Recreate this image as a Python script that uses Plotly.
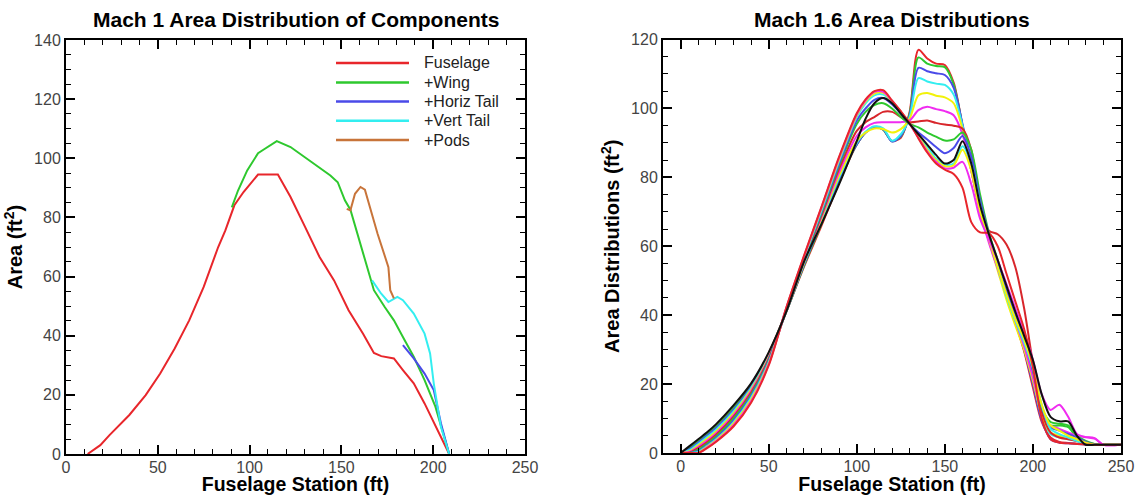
import plotly.graph_objects as go

# ---------------- Left chart: Mach 1 area distribution of components ----------------
fus_x = [11.8, 18.7, 23.7, 34.5, 43.4, 51.3, 59.2, 67.1, 75.0, 82.9, 86.8, 91.7, 96.7, 104.6, 115.4,
         122.3, 130.2, 138.1, 146.0, 153.9, 161.8, 167.7, 171.7, 178.6, 183.5, 189.4, 195.3, 201.2, 205.2, 208.7]
fus_y = [0.0, 3.0, 6.4, 13.2, 19.9, 27.2, 35.7, 45.2, 56.5, 70.0, 75.6, 84.1, 88.6, 94.5, 94.5,
         86.9, 76.8, 66.6, 58.7, 48.6, 40.7, 34.2, 33.1, 32.3, 28.4, 23.9, 17.1, 9.8, 4.7, 0.0]

wing_x = [90.3, 93.7, 98.7, 104.6, 107.5, 114.8, 122.3, 130.2, 138.1, 144.0, 148.0, 151.9, 154.9,
          161.8, 167.7, 173.6, 178.6, 183.5, 189.4, 195.3, 201.2, 208.7]
wing_y = [83.4, 89.1, 95.9, 101.7, 102.9, 105.8, 103.8, 100.4, 97.0, 94.2, 91.9, 85.8, 82.6,
          68.3, 55.4, 49.7, 45.2, 39.6, 32.9, 25.0, 16.0, 0.0]

htail_x = [183.5, 189.4, 195.3, 200.3, 204.2, 208.7]
htail_y = [36.8, 32.3, 27.2, 21.6, 10.4, 0.0]

vtail_x = [166.7, 171.7, 175.6, 180.5, 183.5, 189.4, 195.3, 198.3, 200.3, 204.2, 208.7]
vtail_y = [58.7, 54.2, 51.4, 53.1, 52.0, 47.5, 40.7, 34.0, 23.9, 9.2, 0.0]

pods_x = [152.9, 154.9, 157.4, 160.4, 162.8, 169.7, 175.6, 176.6, 178.6]
pods_y = [82.9, 82.4, 88.0, 90.3, 89.4, 74.5, 63.2, 55.4, 52.6]

left_names = ["Fuselage", "+Wing", "+Horiz Tail", "+Vert Tail", "+Pods"]
left_colors = ["#e8262b", "#2ec82e", "#4a4ae8", "#33eef0", "#c8743a"]

# ---------------- Right chart: Mach 1.6 area distributions ----------------
st = [0, 5, 10, 15, 20, 30, 40, 50, 60, 70, 80, 90, 100, 105, 110, 115, 120, 125, 130, 135, 140,
      145, 150, 155, 160, 165, 170, 175, 180, 185, 190, 195, 200, 205, 210, 215, 220, 225, 230, 235, 240, 250]

c01 = [0, 1.7, 3.7, 5.8, 8.0, 13.4, 19.9, 29.0, 41.0, 54.0, 66.0, 78.5, 89.5,
       93.0, 94.5, 93.8, 90.5, 91.5, 99.0, 117.0, 114.5, 113.0, 112.6, 107.5, 95.0, 82.0, 70.5, 62.0, 54.0,
       46.0, 38.0, 29.5, 19.0, 9.0, 4.5, 3.2, 2.9, 2.7, 2.5, 2.4, 2.4, 2.4]
c02 = [0, 1.4, 3.4, 5.5, 7.6, 13.0, 19.6, 28.7, 41.0, 54.3, 66.5, 79.0, 89.5,
       93.0, 94.5, 93.8, 90.5, 91.8, 98.5, 114.8, 113.0, 112.3, 112.0, 107.0, 95.0, 83.0, 71.0, 62.5, 55.0,
       47.0, 39.5, 31.5, 22.0, 12.0, 8.0, 8.0, 7.5, 4.5, 3.0, 2.4, 2.4, 2.4]
c03 = [0, 1.1, 3.0, 5.1, 7.2, 12.5, 19.2, 28.4, 41.0, 54.6, 67.0, 79.5, 89.5,
       93.0, 94.6, 94.0, 90.4, 92.0, 98.0, 111.8, 110.8, 110.2, 109.7, 106.0, 95.5, 84.0, 72.0, 63.0, 55.0,
       46.5, 38.5, 30.0, 20.0, 9.5, 4.0, 3.0, 2.8, 2.6, 2.5, 2.4, 2.4, 2.4]
c04 = [0, 0.8, 2.6, 4.6, 6.7, 12.0, 18.8, 28.2, 41.1, 55.0, 67.5, 80.0, 90.0,
       93.2, 94.8, 94.2, 90.6, 92.5, 97.5, 108.8, 107.8, 107.2, 106.8, 104.0, 95.0, 83.5, 71.5, 62.5, 54.0,
       45.5, 39.0, 31.0, 22.0, 10.5, 5.5, 4.5, 4.0, 3.5, 2.8, 2.4, 2.4, 2.4]
c05 = [0, 0.5, 2.2, 4.1, 6.2, 11.5, 18.4, 27.9, 41.2, 55.2, 68.0, 80.5, 90.5,
       93.0, 94.2, 94.0, 93.0, 94.0, 97.0, 103.8, 104.5, 103.7, 103.2, 101.5, 94.0, 82.0, 70.0, 61.5, 53.0,
       44.5, 37.0, 30.0, 21.0, 11.0, 6.0, 5.0, 4.5, 3.8, 3.0, 2.4, 2.4, 2.4]
c06 = [0, 0.3, 1.8, 3.6, 5.7, 11.0, 18.0, 27.6, 41.3, 55.5, 68.5, 81.5, 92.0,
       94.5, 95.8, 96.0, 96.0, 96.0, 96.5, 99.5, 100.5, 99.8, 99.2, 98.0, 92.5, 82.0, 70.0, 61.0, 53.5,
       46.0, 38.5, 31.0, 22.0, 12.0, 8.0, 7.0, 6.0, 5.0, 4.6, 4.3, 2.4, 2.4]
c07 = [0, 0.1, 1.4, 3.1, 5.2, 10.5, 17.5, 27.3, 41.4, 55.8, 69.0, 82.5, 93.5,
       96.0, 97.5, 99.0, 99.0, 97.5, 96.0, 96.2, 96.5, 95.8, 95.3, 95.0, 94.2, 88.0, 72.0, 64.5, 63.5,
       60.5, 54.0, 42.0, 26.0, 12.0, 6.0, 4.5, 4.0, 3.5, 3.0, 2.6, 2.4, 2.4]
c08 = [0, 0, 1.0, 2.7, 4.7, 10.0, 17.0, 27.0, 41.5, 56.0, 69.5, 83.5, 95.5,
       99.0, 101.0, 101.5, 100.0, 97.5, 95.5, 94.5, 93.0, 91.8, 90.7, 91.0, 93.0, 88.0, 75.0, 64.0, 56.0,
       48.0, 41.0, 33.5, 24.0, 13.0, 9.0, 8.5, 8.0, 5.0, 3.5, 2.6, 2.4, 2.4]
c09 = [0, 0, 0.6, 2.3, 4.3, 9.4, 16.5, 26.7, 41.6, 56.3, 70.0, 84.0, 96.5,
       100.0, 102.5, 103.0, 101.2, 98.5, 95.5, 93.0, 91.0, 88.8, 87.0, 88.5, 92.0, 86.0, 73.5, 63.5, 55.5,
       47.5, 40.0, 32.5, 24.0, 13.5, 7.5, 6.5, 5.5, 4.5, 3.2, 2.5, 2.4, 2.4]
c10 = [0, 0, 0.3, 2.0, 3.9, 8.9, 16.0, 26.3, 41.8, 56.5, 70.5, 84.8, 97.5,
       101.5, 103.8, 104.0, 101.8, 98.8, 95.5, 92.2, 88.8, 85.5, 83.7, 84.0, 89.0, 84.0, 72.0, 62.5, 54.0,
       45.5, 38.5, 32.0, 24.5, 14.0, 7.0, 5.5, 4.5, 3.5, 2.8, 2.4, 2.4, 2.4]
c11 = [0, 0, 0.1, 1.8, 3.6, 8.5, 15.5, 26.0, 42.0, 56.8, 71.0, 85.3, 98.0,
       102.0, 104.3, 104.5, 102.0, 99.0, 95.5, 91.8, 88.0, 85.0, 83.2, 83.5, 88.0, 82.0, 70.0, 62.0, 54.0,
       46.0, 39.0, 33.0, 25.0, 14.0, 8.0, 6.5, 5.0, 4.0, 3.0, 2.4, 2.4, 2.4]
c12 = [0, 0, 0, 1.6, 3.4, 8.1, 15.0, 25.7, 42.1, 57.0, 71.3, 85.7, 98.3,
       102.3, 104.8, 104.8, 102.2, 99.0, 95.5, 91.5, 87.5, 84.5, 82.6, 82.8, 84.5, 78.0, 68.0, 62.0, 56.0,
       49.0, 42.0, 35.0, 27.0, 17.0, 12.5, 14.0, 10.5, 5.5, 4.6, 4.2, 2.4, 2.4]
c13 = [0, 0, 0, 1.4, 3.2, 7.7, 14.6, 25.4, 42.2, 57.2, 71.5, 86.0, 98.6,
       102.6, 105.0, 105.3, 102.3, 99.2, 95.8, 91.3, 87.2, 84.0, 82.2, 81.0, 77.0, 67.0, 64.0, 63.8, 60.0,
       52.0, 44.0, 36.0, 25.0, 10.0, 4.0, 3.0, 2.8, 2.6, 2.5, 2.4, 2.4, 2.4]
cblk = [0, 2.0, 4.0, 6.0, 8.3, 13.8, 20.2, 29.2, 41.0, 55.5, 66.5, 78.0, 90.5,
        97.0, 101.5, 103.0, 101.5, 98.5, 95.5, 92.5, 89.5, 86.5, 84.0, 85.0, 90.5, 84.0, 72.0, 63.5, 56.0,
        48.5, 41.0, 34.0, 27.0, 17.0, 10.5, 9.2, 9.2, 5.0, 2.4, 2.4, 2.4, 2.4]

right_series = [c01, c02, c03, c04, c05, c06, c07, c08, c09, c10, c11, c12, c13, cblk]
right_colors = ["#e8262b", "#2ec82e", "#4a4ae8", "#33eef0", "#f2f20a", "#f02cf0",
                "#d8262b", "#2ec82e", "#4a4ae8", "#33eef0", "#f2f20a", "#f02cf0", "#e8262b", "#111111"]

FONT = "Liberation Sans, Arial, sans-serif"
W, H = 1138, 495

fig = go.Figure()

left_sets = [(fus_x, fus_y), (wing_x, wing_y), (htail_x, htail_y), (vtail_x, vtail_y), (pods_x, pods_y)]
for (xs, ys), name, col in zip(left_sets, left_names, left_colors):
    fig.add_trace(go.Scatter(x=xs, y=ys, mode="lines", name=name, showlegend=False,
                             line=dict(color=col, width=2), xaxis="x", yaxis="y"))

for ys, col in zip(right_series, right_colors):
    fig.add_trace(go.Scatter(x=st, y=ys, mode="lines", showlegend=False,
                             line=dict(color=col, width=2, shape="spline", smoothing=0.8),
                             xaxis="x2", yaxis="y2"))

axis_common = dict(
    showline=True, linecolor="black", linewidth=2, mirror="allticks",
    ticks="inside", ticklen=9, tickwidth=2, tickcolor="black",
    showgrid=False, zeroline=False,
    tickfont=dict(family=FONT, size=16, color="#444"),
)
minor_common = dict(ticks="inside", ticklen=5, tickcolor="black", tickwidth=1)
xtitle_font = dict(family=FONT, size=19.5, color="black")
ytitle_font = dict(family=FONT, size=20, color="black")

# legend drawn inside the left panel (lines + labels)
legend_rows = [63, 82.4, 101.6, 120.8, 140]
shapes = []
annotations = []
for name, col, row in zip(left_names, left_colors, legend_rows):
    shapes.append(dict(type="line", xref="paper", yref="paper",
                       x0=336 / W, x1=409 / W, y0=1 - row / H, y1=1 - row / H,
                       line=dict(color=col, width=2.5)))
    annotations.append(dict(text=name, xref="paper", yref="paper", x=422 / W, y=1 - row / H,
                            xanchor="left", yanchor="middle", showarrow=False,
                            font=dict(family=FONT, size=16, color="#222")))

annotations += [
    dict(text="<b>Mach 1 Area Distribution of Components</b>", x=(66 + 525) / 2 / W, y=1 - 19 / H,
         xref="paper", yref="paper", showarrow=False, xanchor="center", yanchor="middle",
         font=dict(family=FONT, size=21, color="black")),
    dict(text="<b>Mach 1.6 Area Distributions</b>", x=(663 + 1121) / 2 / W, y=1 - 19 / H,
         xref="paper", yref="paper", showarrow=False, xanchor="center", yanchor="middle",
         font=dict(family=FONT, size=21, color="black")),
]

fig.update_layout(
    width=W, height=H,
    margin=dict(l=0, r=0, t=0, b=0, autoexpand=False),
    paper_bgcolor="white", plot_bgcolor="white",
    showlegend=False,
    xaxis=dict(domain=[66 / W, 525 / W], range=[0, 250], dtick=50, anchor="y", ticklabelstandoff=-2,
               minor=dict(dtick=10, **minor_common),
               title=dict(text="<b>Fuselage Station (ft)</b>", standoff=0, font=xtitle_font),
               **axis_common),
    yaxis=dict(domain=[1 - 454 / H, 1 - 40 / H], range=[0, 140], dtick=20, anchor="x",
               minor=dict(dtick=5, **minor_common),
               title=dict(text="<b>Area (ft<sup>2</sup>)</b>", standoff=6, font=ytitle_font),
               **axis_common),
    xaxis2=dict(domain=[663 / W, 1121 / W], range=[-10, 250], tickvals=[0, 50, 100, 150, 200, 250],
                anchor="y2", ticklabelstandoff=-2,
                minor=dict(tickvals=[-10] + [v for v in range(10, 250, 10) if v % 50 != 0], **minor_common),
                title=dict(text="<b>Fuselage Station (ft)</b>", standoff=0, font=xtitle_font),
                **axis_common),
    yaxis2=dict(domain=[1 - 453 / H, 1 - 39.5 / H], range=[0, 120], dtick=20, anchor="x2",
                minor=dict(dtick=5, **minor_common),
                title=dict(text="<b>Area Distributions (ft<sup>2</sup>)</b>", standoff=6, font=ytitle_font),
                **axis_common),
    shapes=shapes,
    annotations=annotations,
)

fig.write_html("out.html", config={"displayModeBar": False},
               post_script="document.body.style.margin='0';document.body.style.overflow='hidden';")
